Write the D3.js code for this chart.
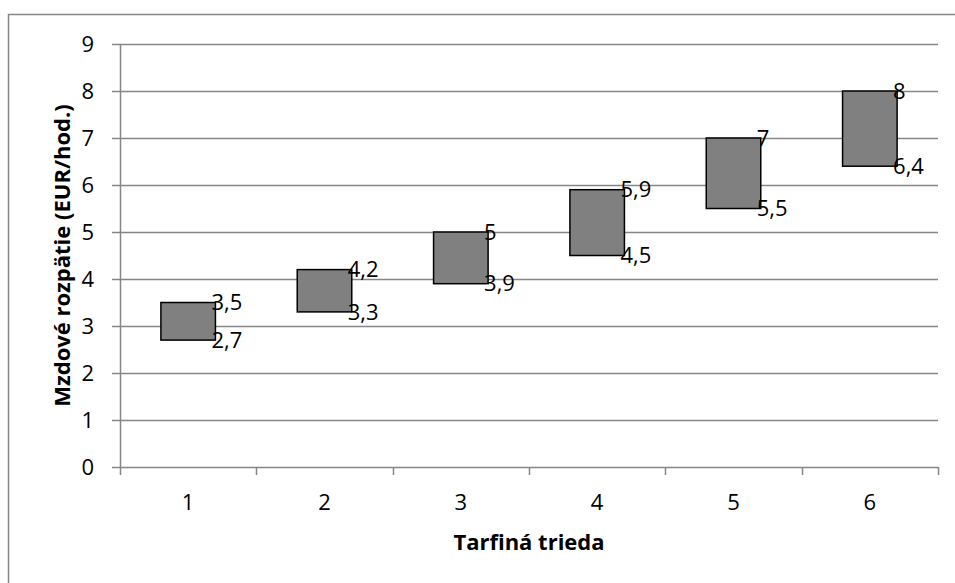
<!DOCTYPE html>
<html>
<head>
<meta charset="utf-8">
<script src="https://cdn.jsdelivr.net/npm/d3@7"></script>
<style>
  body { margin: 0; background: #fff; }
  text { font-family: "Open Sans", "Noto Sans", sans-serif; }
</style>
</head>
<body>
<div id="chart"></div>
<script>
// Data
const categories = ["1", "2", "3", "4", "5", "6"];
const lowValues = [2.7, 3.3, 3.9, 4.5, 5.5, 6.4];
const highValues = [3.5, 4.2, 5, 5.9, 7, 8];
const yTicks = [0, 1, 2, 3, 4, 5, 6, 7, 8, 9];

const W = 955, H = 583;
const margin = { top: 44, right: 17, bottom: 116, left: 120 };
const width = W - margin.left - margin.right;
const height = H - margin.top - margin.bottom;

const data = categories.map((c, i) => ({ cat: c, lo: lowValues[i], hi: highValues[i] }));
const fmt = v => String(v).replace(".", ",");

const svgRoot = d3.select("#chart").append("svg")
    .attr("width", W)
    .attr("height", H);

// outer chart border (only left and top fall inside the picture)
svgRoot.append("rect")
    .attr("x", 8.5).attr("y", 14.5)
    .attr("width", 960).attr("height", 600)
    .attr("fill", "none")
    .attr("stroke", "#868686")
    .attr("stroke-width", 1.5);

const svg = svgRoot.append("g")
    .attr("transform", `translate(${margin.left},${margin.top})`);

// Scales
const x = d3.scaleBand()
    .domain(categories)
    .range([0, width]);

const y = d3.scaleLinear()
    .domain([0, 9])
    .range([height, 0]);

// Gridlines
svg.append("g")
    .selectAll("line")
    .data(yTicks.filter(d => d > 0))
    .enter().append("line")
    .attr("x1", 0).attr("x2", width)
    .attr("y1", d => Math.round(y(d)) + 0.5)
    .attr("y2", d => Math.round(y(d)) + 0.5)
    .attr("stroke", "#868686")
    .attr("stroke-width", 1.5);

// Y axis
const yAxis = svg.append("g")
    .call(d3.axisLeft(y).tickValues(yTicks).tickSize(8).tickPadding(18).tickFormat(d3.format("d")));
yAxis.select(".domain").attr("stroke", "#868686").attr("stroke-width", 1.5).attr("d", `M0.5,${height}V0`);
yAxis.selectAll(".tick line").attr("stroke", "#868686").attr("stroke-width", 1.5);
yAxis.selectAll("text").style("font-size", "22px").attr("fill", "#000");

// X axis with ticks on category boundaries
const xAxis = svg.append("g")
    .attr("transform", `translate(0,${height})`)
    .call(d3.axisBottom(x).tickSize(0).tickPadding(27));
xAxis.select(".domain").attr("stroke", "#868686").attr("stroke-width", 1.5).attr("d", `M0,0.5H${width}`);
xAxis.selectAll("text").style("font-size", "22px").attr("fill", "#000");
xAxis.selectAll(".bound")
    .data(d3.range(categories.length + 1))
    .enter().append("line")
    .attr("class", "bound")
    .attr("x1", i => Math.round(i * x.step()) + 0.5)
    .attr("x2", i => Math.round(i * x.step()) + 0.5)
    .attr("y1", 0).attr("y2", 8)
    .attr("stroke", "#868686")
    .attr("stroke-width", 1.5);

// Range boxes
const boxW = x.bandwidth() * 0.4;
svg.append("g")
    .selectAll("rect")
    .data(data)
    .enter().append("rect")
    .attr("x", d => x(d.cat) + (x.bandwidth() - boxW) / 2)
    .attr("y", d => y(d.hi))
    .attr("width", boxW)
    .attr("height", d => y(d.lo) - y(d.hi))
    .attr("fill", "#808080")
    .attr("stroke", "#000")
    .attr("stroke-width", 1.5);

// Value labels
const labels = svg.append("g");
["hi", "lo"].forEach(key => {
    labels.selectAll("text." + key)
        .data(data)
        .enter().append("text")
        .attr("class", key)
        .attr("x", d => x(d.cat) + (x.bandwidth() + boxW) / 2 - 4)
        .attr("y", d => y(d[key]))
        .attr("dy", "0.35em")
        .style("font-size", "22px")
        .attr("fill", "#000")
        .text(d => fmt(d[key]));
});

// Axis titles
svg.append("text")
    .attr("x", width / 2)
    .attr("y", height + 75)
    .attr("dy", "0.35em")
    .attr("text-anchor", "middle")
    .style("font-size", "22px")
    .style("font-weight", "bold")
    .text("Tarfiná trieda");

svg.append("text")
    .attr("transform", "rotate(-90)")
    .attr("x", -height / 2)
    .attr("y", -margin.left + 62)
    .attr("dy", "0.35em")
    .attr("text-anchor", "middle")
    .style("font-size", "22px")
    .style("font-weight", "bold")
    .text("Mzdové rozpätie (EUR/hod.)");
</script>
</body>
</html>
